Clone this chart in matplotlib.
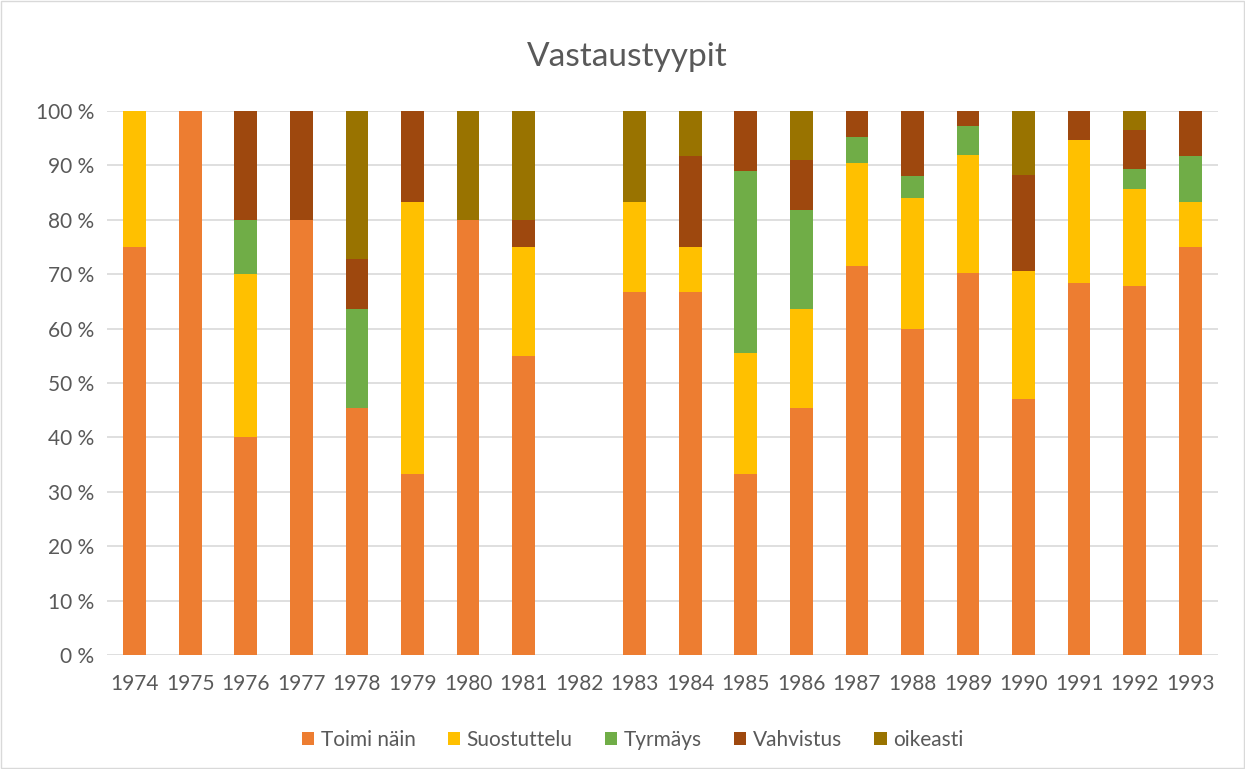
import numpy as np
import matplotlib
matplotlib.use('Agg')
import matplotlib.pyplot as plt
from matplotlib.patches import Rectangle

plt.rcParams['font.family'] = ['Lato', 'DejaVu Sans']

years = ['1974', '1975', '1976', '1977', '1978', '1979', '1980', '1981', '1982', '1983',
         '1984', '1985', '1986', '1987', '1988', '1989', '1990', '1991', '1992', '1993']

# shares in percent
toimi    = [75, 100, 40, 80, 45.45, 33.33, 80, 55, 0, 66.67,
            66.67, 33.33, 45.45, 71.43, 60, 70.27, 47.06, 68.42, 67.86, 75]
suost    = [25, 0, 30, 0, 0, 50, 0, 20, 0, 16.67,
            8.33, 22.22, 18.18, 19.05, 24, 21.62, 23.53, 26.32, 17.86, 8.33]
tyrmays  = [0, 0, 10, 0, 18.18, 0, 0, 0, 0, 0,
            0, 33.33, 18.18, 4.76, 4, 5.41, 0, 0, 3.57, 8.33]
vahvist  = [0, 0, 20, 20, 9.09, 16.67, 0, 5, 0, 0,
            16.67, 11.11, 9.09, 4.76, 12, 2.70, 17.65, 5.26, 7.14, 8.33]
oikeasti = [0, 0, 0, 0, 27.27, 0, 20, 20, 0, 16.67,
            8.33, 0, 9.09, 0, 0, 0, 11.76, 0, 3.57, 0]

series = [('Toimi näin', toimi, '#ED7D31'),
          ('Suostuttelu', suost, '#FFC000'),
          ('Tyrmäys', tyrmays, '#70AD47'),
          ('Vahvistus', vahvist, '#9E480E'),
          ('oikeasti', oikeasti, '#997300')]

fig = plt.figure(figsize=(12.45, 7.69), dpi=100)
ax = fig.add_axes([0.0859, 0.1482, 0.8924, 0.7075])

x = np.arange(len(years))
bottom = np.zeros(len(years))
handles = []
for name, vals, col in series:
    vals = np.array(vals, dtype=float)
    b = ax.bar(x, vals, 0.41, bottom=bottom, color=col, label=name, zorder=3,
               linewidth=0)
    handles.append(b)
    bottom += vals

ax.set_xlim(-0.5, len(years) - 0.5)
ax.set_ylim(0, 100)
ax.set_yticks(np.arange(0, 101, 10))
ax.set_yticklabels([f'{v} %' for v in range(0, 101, 10)])
ax.set_xticks(x)
ax.set_xticklabels(years)
ax.tick_params(axis='both', length=0, labelsize=15, colors='#595959')
ax.tick_params(axis='x', pad=14)
ax.tick_params(axis='y', pad=9)
ax.grid(axis='y', color='#D9D9D9', linewidth=1.2, zorder=0)
for s in ax.spines.values():
    s.set_visible(False)

fig.text(0.504, 0.926, 'Vastaustyypit', ha='center', va='center',
         fontsize=24, color='#595959')

fig.legend(handles=handles, loc='center', bbox_to_anchor=(0.508, 0.038), ncol=5,
           frameon=False, fontsize=15, handlelength=0.6, handleheight=0.6,
           handletextpad=0.3, columnspacing=1.55, labelcolor='#595959')

fig.add_artist(Rectangle((0.001, 0.001), 0.998, 0.998, transform=fig.transFigure,
                         fill=False, edgecolor='#D9D9D9', linewidth=1))

fig.savefig('out.png', dpi=100)
